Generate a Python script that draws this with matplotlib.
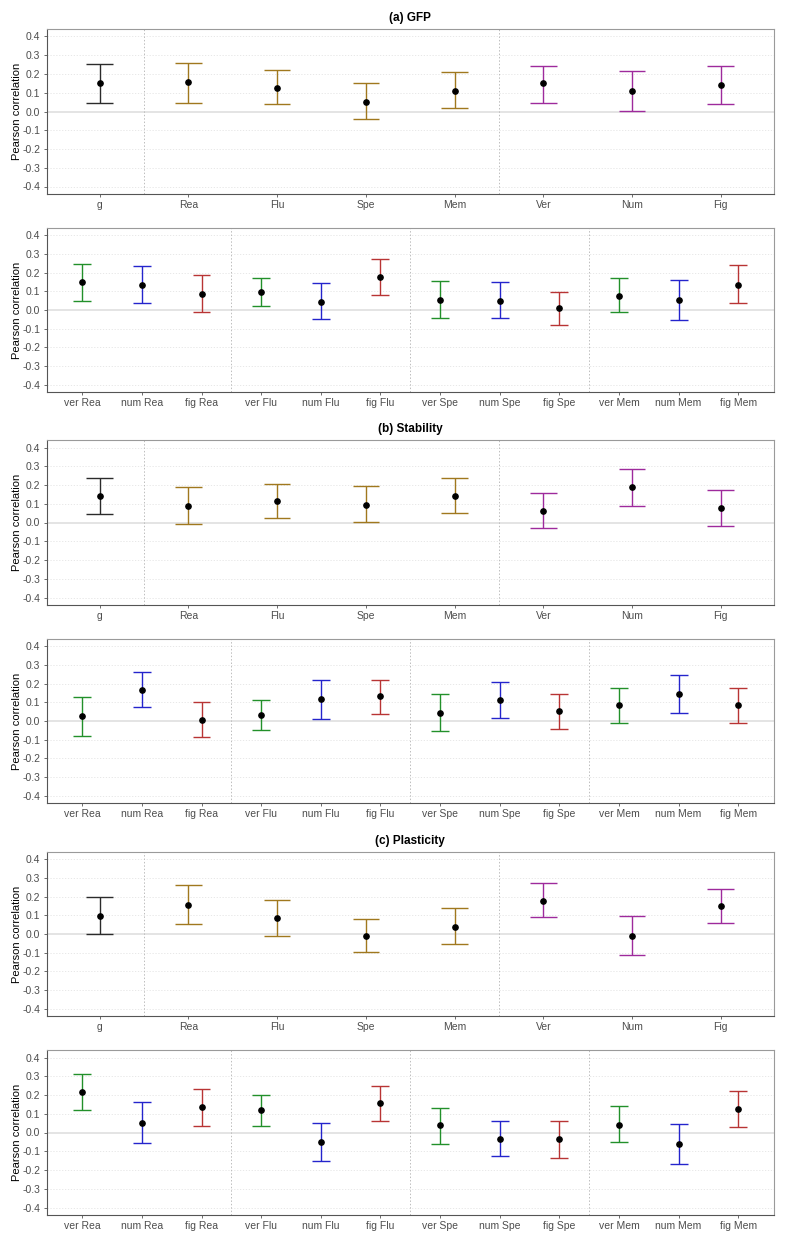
"""Pearson correlations with confidence intervals for GFP, Stability and Plasticity."""

import matplotlib

matplotlib.use("Agg")
import matplotlib.pyplot as plt

# factor level panels (g + abilities)
FACTOR_LABELS = ["g", "Rea", "Flu", "Spe", "Mem", "Ver", "Num", "Fig"]
FACTOR_COLORS = ["#2b2b2b", "#a0781e", "#a0781e", "#a0781e", "#a0781e", "#9e2a9c", "#9e2a9c", "#9e2a9c"]

# content x ability panels
CELL_LABELS = [
    "ver Rea", "num Rea", "fig Rea",
    "ver Flu", "num Flu", "fig Flu",
    "ver Spe", "num Spe", "fig Spe",
    "ver Mem", "num Mem", "fig Mem",
]
CELL_COLORS = ["#22902a", "#2424cc", "#b83434"] * 4

# (a) GFP
gfp_factor_r = [0.150, 0.157, 0.128, 0.052, 0.112, 0.150, 0.110, 0.144]
gfp_factor_lo = [0.048, 0.043, 0.039, -0.041, 0.020, 0.048, 0.005, 0.041]
gfp_factor_hi = [0.253, 0.257, 0.219, 0.152, 0.212, 0.244, 0.217, 0.244]

gfp_cell_r = [0.148, 0.136, 0.088, 0.096, 0.043, 0.179, 0.054, 0.050, 0.009, 0.077, 0.052, 0.134]
gfp_cell_lo = [0.046, 0.036, -0.012, 0.020, -0.050, 0.082, -0.045, -0.043, -0.082, -0.012, -0.055, 0.036]
gfp_cell_hi = [0.245, 0.238, 0.186, 0.170, 0.143, 0.271, 0.154, 0.148, 0.098, 0.173, 0.159, 0.239]

# (b) Stability
stab_factor_r = [0.139, 0.087, 0.117, 0.093, 0.139, 0.059, 0.187, 0.077]
stab_factor_lo = [0.046, -0.007, 0.025, 0.004, 0.053, -0.028, 0.087, -0.018]
stab_factor_hi = [0.237, 0.191, 0.205, 0.194, 0.235, 0.158, 0.286, 0.171]

stab_cell_r = [0.025, 0.168, 0.007, 0.032, 0.118, 0.134, 0.045, 0.112, 0.054, 0.084, 0.145, 0.086]
stab_cell_lo = [-0.080, 0.073, -0.086, -0.048, 0.011, 0.037, -0.055, 0.018, -0.043, -0.009, 0.043, -0.011]
stab_cell_hi = [0.130, 0.264, 0.102, 0.114, 0.220, 0.221, 0.143, 0.207, 0.143, 0.175, 0.245, 0.179]

# (c) Plasticity
plas_factor_r = [0.096, 0.157, 0.084, -0.012, 0.037, 0.176, -0.012, 0.152]
plas_factor_lo = [0.002, 0.052, -0.011, -0.094, -0.055, 0.089, -0.112, 0.059]
plas_factor_hi = [0.200, 0.262, 0.184, 0.078, 0.141, 0.276, 0.094, 0.241]

plas_cell_r = [0.215, 0.050, 0.135, 0.119, -0.050, 0.156, 0.039, -0.032, -0.037, 0.039, -0.062, 0.126]
plas_cell_lo = [0.119, -0.055, 0.034, 0.036, -0.151, 0.059, -0.060, -0.124, -0.135, -0.050, -0.169, 0.030]
plas_cell_hi = [0.314, 0.163, 0.234, 0.201, 0.052, 0.250, 0.133, 0.064, 0.059, 0.139, 0.043, 0.222]

TITLES = ["(a) GFP", "(b) Stability", "(c) Plasticity"]
FACTOR_BREAKS = [1.5, 5.5]
CELL_BREAKS = [3.5, 6.5, 9.5]
Y_TICKS = [-0.4, -0.3, -0.2, -0.1, 0.0, 0.1, 0.2, 0.3, 0.4]

plt.rcParams.update(
    {
        "font.family": ["Liberation Sans Narrow", "Liberation Sans", "DejaVu Sans"],
        "font.size": 8,
    }
)

W, H = 788, 1238
# panel boxes in pixels: (top, bottom)
PANEL_PX = [(29, 194), (228, 392), (440, 605), (639, 803), (852, 1016), (1050, 1215)]
LEFT_PX, RIGHT_PX = 46.5, 774


def draw_panel(ax, labels, colors, r, lo, hi, breaks, title=None):
    n = len(labels)
    xs = list(range(1, n + 1))
    ax.set_xlim(0.4, n + 0.6)
    ax.set_ylim(-0.44, 0.44)

    for y in Y_TICKS:
        if y == 0.0:
            ax.axhline(0, color="#dcdcdc", linewidth=1.1, zorder=1)
        else:
            ax.axhline(y, color="#e4e4e4", linewidth=0.6, linestyle=(0, (1.5, 2)), zorder=1)
    for b in breaks:
        ax.axvline(b, color="#bdbdbd", linewidth=0.7, linestyle=(0, (1.5, 2)), zorder=1)

    half = 0.15
    for x, c, m, l, h in zip(xs, colors, r, lo, hi):
        ax.vlines(x, l, h, color=c, linewidth=1.0, zorder=2)
        ax.hlines([l, h], x - half, x + half, color=c, linewidth=1.0, zorder=2)
        ax.plot(x, m, "o", color="black", markersize=3.8, zorder=3)

    ax.set_xticks(xs)
    ax.set_xticklabels(labels)
    ax.set_yticks(Y_TICKS)
    ax.set_yticklabels([f"{v:.1f}" for v in Y_TICKS])
    ax.tick_params(axis="both", labelsize=7.5, colors="#555555", labelcolor="#4d4d4d",
                   length=2.5, width=0.6, pad=2)
    ax.set_ylabel("Pearson correlation", fontsize=8, labelpad=0)
    for side in ("top", "right"):
        ax.spines[side].set_color("#9a9a9a")
        ax.spines[side].set_linewidth(0.8)
    for side in ("left", "bottom"):
        ax.spines[side].set_color("#555555")
        ax.spines[side].set_linewidth(0.8)
    if title:
        ax.set_title(title, fontsize=8.5, fontweight="bold", pad=6)


fig = plt.figure(figsize=(W / 100, H / 100), dpi=100)

panels = [
    (FACTOR_LABELS, FACTOR_COLORS, gfp_factor_r, gfp_factor_lo, gfp_factor_hi, FACTOR_BREAKS, TITLES[0]),
    (CELL_LABELS, CELL_COLORS, gfp_cell_r, gfp_cell_lo, gfp_cell_hi, CELL_BREAKS, None),
    (FACTOR_LABELS, FACTOR_COLORS, stab_factor_r, stab_factor_lo, stab_factor_hi, FACTOR_BREAKS, TITLES[1]),
    (CELL_LABELS, CELL_COLORS, stab_cell_r, stab_cell_lo, stab_cell_hi, CELL_BREAKS, None),
    (FACTOR_LABELS, FACTOR_COLORS, plas_factor_r, plas_factor_lo, plas_factor_hi, FACTOR_BREAKS, TITLES[2]),
    (CELL_LABELS, CELL_COLORS, plas_cell_r, plas_cell_lo, plas_cell_hi, CELL_BREAKS, None),
]

for (top, bottom), spec in zip(PANEL_PX, panels):
    rect = [LEFT_PX / W, 1 - bottom / H, (RIGHT_PX - LEFT_PX) / W, (bottom - top) / H]
    ax = fig.add_axes(rect)
    draw_panel(ax, *spec)

fig.savefig("out.png", dpi=100)
